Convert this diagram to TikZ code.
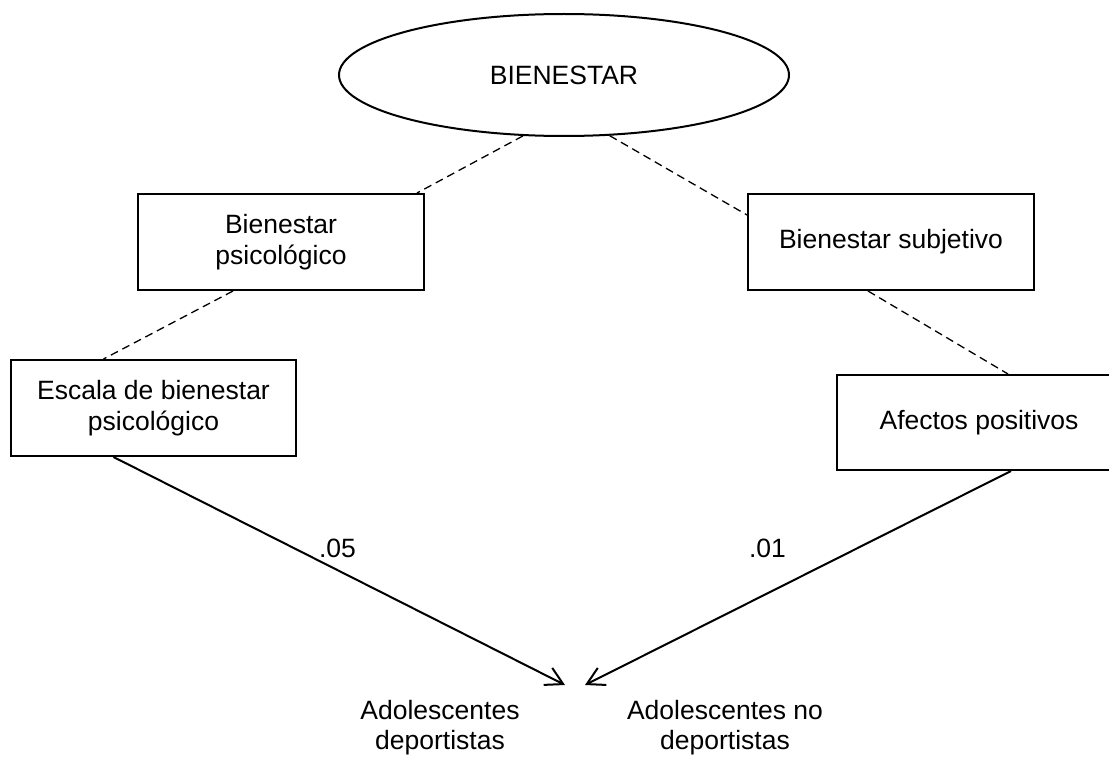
\documentclass[tikz,border=0pt]{standalone}
\usepackage{fontspec}
\setmainfont{Liberation Sans}
\usetikzlibrary{arrows.meta,shapes.geometric}
\begin{document}
\begin{tikzpicture}[x=1pt,y=-1pt,
  every node/.style={font=\fontsize{26.5}{30.5}\selectfont, inner sep=0pt},
  box/.style={draw, line width=2pt, rectangle, minimum height=96pt, align=center},
  oval/.style={draw, line width=2pt, ellipse, minimum width=450pt, minimum height=122pt},
  dashline/.style={line width=1.3pt, dash pattern=on 8pt off 5pt},
  arr/.style={line width=2pt, -{Straight Barb[length=17pt,width=19pt]}}
]
\useasboundingbox (0,0) rectangle (1109,757);
\clip (0,0) rectangle (1109,757);

\node[oval] (bien) at (564,75) {BIENESTAR};
\node[box, minimum width=286pt] (psico) at (281,242) {Bienestar\\psicológico};
\node[box, minimum width=286pt] (subj) at (891,242) {Bienestar subjetivo};
\node[box, minimum width=285pt] (esc) at (153.5,408) {Escala de bienestar\\psicológico};
\node[box, minimum width=284pt, minimum height=95pt] (afe) at (979,422.5) {Afectos positivos};

\draw[dashline] (bien.236) -- ([xshift=-8pt]psico.north east);
\draw[dashline] (bien.307) -- ([yshift=27pt]subj.west);
\draw[dashline] ([xshift=-48pt]psico.south) -- ([xshift=-50pt]esc.north);
\draw[dashline] ([xshift=-23pt]subj.south) -- ([xshift=29pt]afe.north);

\coordinate (tipL) at (565,685);
\coordinate (tipR) at (585,685);
\draw[arr] ([xshift=-40pt]esc.south) -- (tipL);
\draw[arr] ([xshift=32pt]afe.south) -- (tipR);

\node (l05) at (337.5,548) {.05};
\node (l01) at (767.5,548) {.01};

\node[align=center] (adolA) at (440,727.5) {Adolescentes\\deportistas};
\node[align=center] (adolB) at (725,727.5) {Adolescentes no\\deportistas};
\end{tikzpicture}
\end{document}
